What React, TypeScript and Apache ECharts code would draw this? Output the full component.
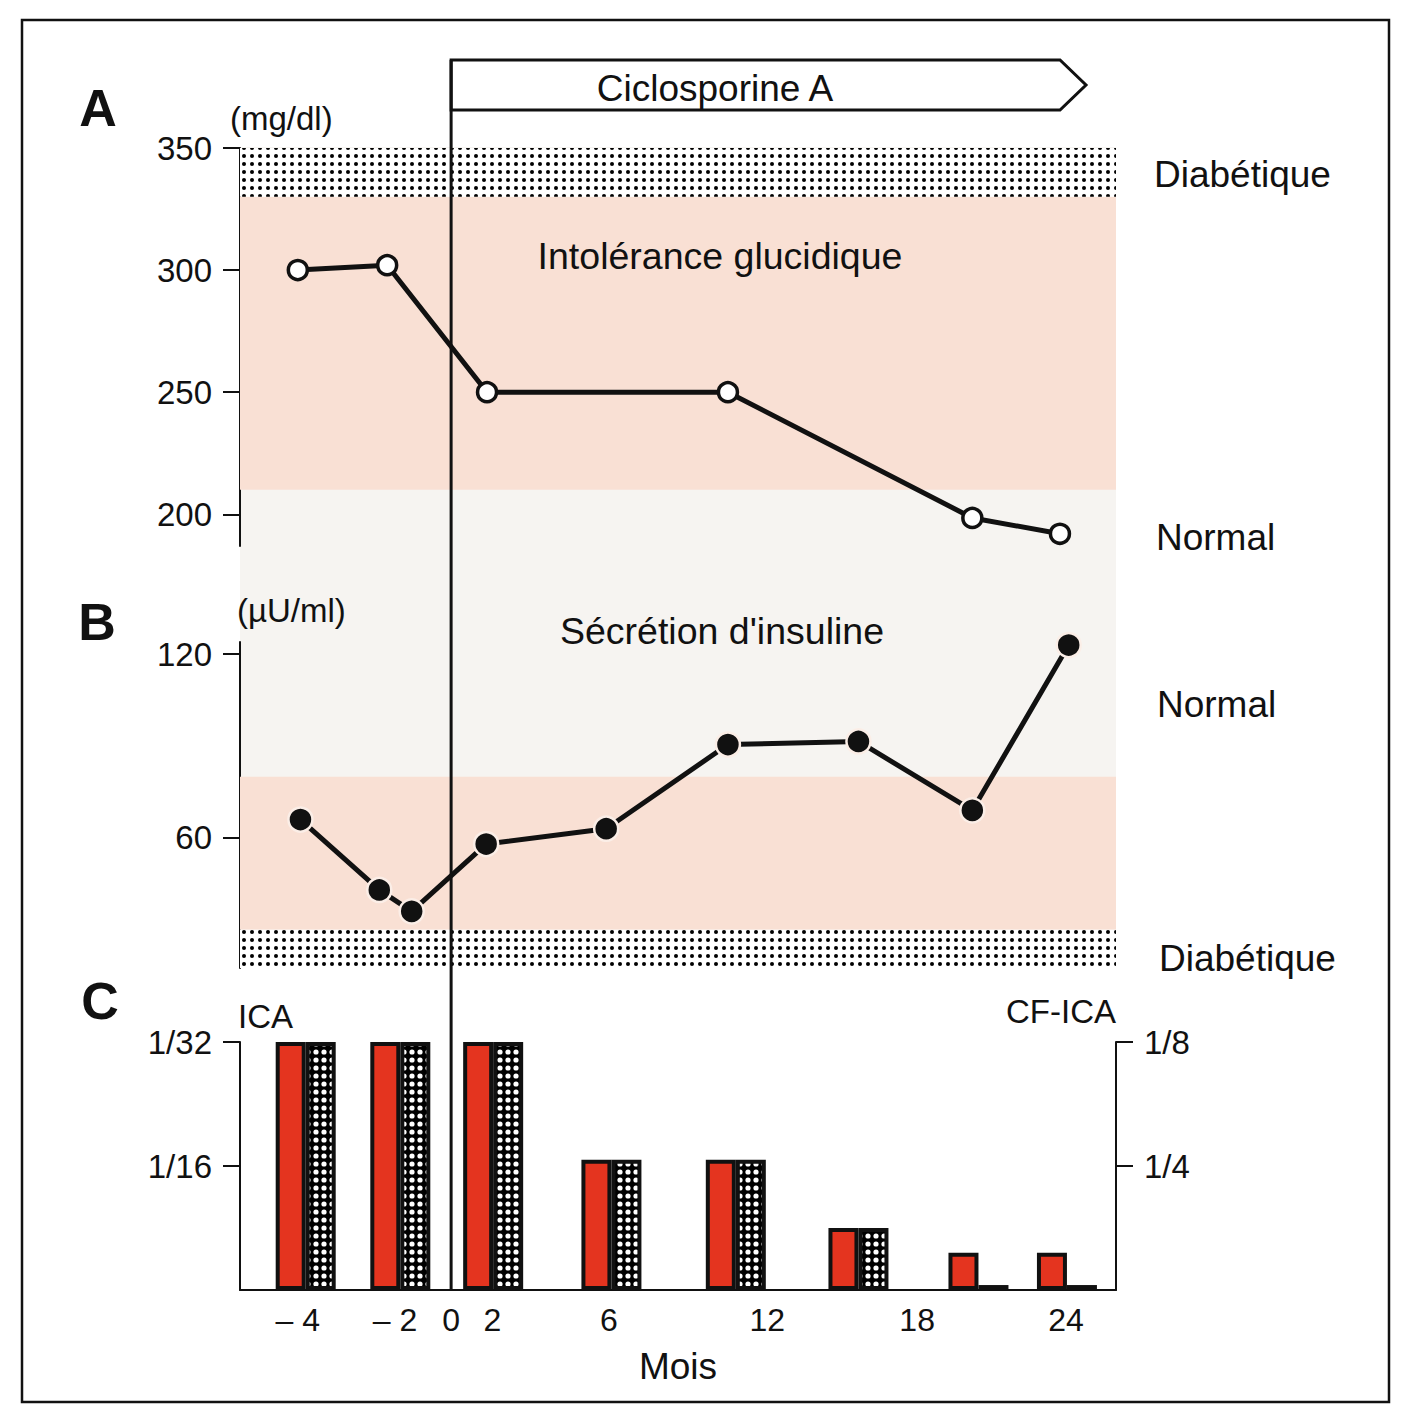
import React, { useEffect, useRef } from 'react';
import * as echarts from 'echarts';

const FONT = '"Liberation Sans", Arial, Helvetica, sans-serif';
const INK = '#111111';
const PINK = '#f9e0d4';
const NORMAL_BG = '#f6f4f1';
const RED = '#e4341f';

// Time axis of the original is schematic (non-linear): values are positions along the axis (0–100).
const timeTickLabels = ['– 4', '– 2', '0', '2', '6', '12', '18', '24'];
const timeTickPos = [6.6, 17.7, 24.1, 28.8, 42.1, 60.2, 77.3, 94.3];
const treatmentStartPos = 24.1; // month 0: start of Ciclosporine A

// A — glycémie (mg/dl)
const glucoseTime = [6.6, 16.8, 28.2, 55.7, 83.6, 93.6];
const glucose = [300, 302, 250, 250, 198.5, 192];
const glucoseTicks = [200, 250, 300, 350];
const glucoseIntoleranceBand = [210, 330];
const glucoseDiabeticBand = [330, 350];

// B — sécrétion d'insuline (µU/ml)
const insulinTime = [6.9, 15.9, 19.6, 28.1, 41.8, 55.7, 70.6, 83.6, 94.6];
const insulin = [66, 43, 36, 58, 63, 90.5, 91.5, 69, 123];
const insulinTicks = [60, 120];
const insulinReducedBand = [30, 80];
const insulinDiabeticBand = [17.5, 30];

// C — ICA / CF-ICA titres, in doubling dilutions above the baseline
const antibodyTime = [7.5, 18.3, 28.9, 42.4, 56.6, 70.6, 84.3, 94.4];
const icaTitre = [2, 2, 2, 1.05, 1.05, 0.5, 0.3, 0.3];
const cfIcaTitre = [2, 2, 2, 1.05, 1.05, 0.5, 0.04, 0.04];
const icaTicks = [1, 2];
const icaTickLabels = ['1/16', '1/32'];
const cfIcaTicks = [1, 2];
const cfIcaTickLabels = ['1/4', '1/8'];

function dotPattern(w: number, h: number, r: number, dot: string, bg: string) {
  const c = document.createElement('canvas');
  c.width = w;
  c.height = h;
  const ctx = c.getContext('2d')!;
  ctx.fillStyle = bg;
  ctx.fillRect(0, 0, w, h);
  ctx.fillStyle = dot;
  ctx.beginPath();
  ctx.arc(w / 2, h / 2, r, 0, Math.PI * 2);
  ctx.fill();
  return { image: c, repeat: 'repeat' };
}

function lookup(vals: number[], labels: string[]) {
  return (v: number) => {
    const i = vals.findIndex((x) => Math.abs(x - v) < 1e-6);
    return i >= 0 ? labels[i] : '';
  };
}

function yAxis(gridIndex: number, min: number, max: number, ticks: number[], opts: any = {}) {
  const right = opts.position === 'right';
  return {
    type: 'value',
    gridIndex,
    min,
    max,
    position: opts.position || 'left',
    name: opts.name || '',
    nameLocation: 'end',
    nameGap: opts.nameGap || 30,
    nameTextStyle: {
      fontSize: 33,
      color: INK,
      fontFamily: FONT,
      align: right ? 'right' : 'left',
      verticalAlign: 'middle',
      padding: right ? 0 : [0, 0, 0, opts.nameShift || 0],
    },
    axisLine: { show: true, onZero: false, lineStyle: { color: INK, width: 2 } },
    axisTick: { show: true, inside: false, length: 17, customValues: ticks, lineStyle: { color: INK, width: 2 } },
    axisLabel: {
      customValues: ticks,
      fontSize: 33,
      color: INK,
      fontFamily: FONT,
      margin: 28,
      formatter: opts.formatter,
    },
    splitLine: { show: false },
  };
}

function xAxis(gridIndex: number, visible: boolean) {
  return {
    type: 'value',
    gridIndex,
    min: 0,
    max: 100,
    show: visible,
    name: visible ? 'Mois' : '',
    nameLocation: 'middle',
    nameGap: 58,
    nameTextStyle: { fontSize: 37, color: INK, fontFamily: FONT },
    axisLine: { show: true, onZero: false, lineStyle: { color: INK, width: 2 } },
    axisTick: { show: false },
    axisLabel: {
      customValues: timeTickPos,
      formatter: lookup(timeTickPos, timeTickLabels),
      fontSize: 32,
      color: INK,
      fontFamily: FONT,
      margin: 14,
    },
    splitLine: { show: false },
  };
}

export default function App() {
  const ref = useRef<HTMLDivElement>(null);

  useEffect(() => {
    if (!ref.current) return;
    const chart = echarts.init(ref.current, null, { renderer: 'svg' });

    const bandDots = dotPattern(8, 8, 2, '#000', '#ffffff');
    const barDots = dotPattern(8, 8, 2.6, '#ffffff', '#000');

    const option: any = {
      animation: false,
      backgroundColor: '#ffffff',
      textStyle: { fontFamily: FONT },
      grid: [
        { left: 240, right: 292, top: 148, height: 398 },
        { left: 240, right: 292, top: 642, height: 326 },
        { left: 240, right: 292, top: 1042, height: 248 },
      ],
      xAxis: [xAxis(0, false), xAxis(1, false), xAxis(2, true)],
      yAxis: [
        yAxis(0, 187, 350, glucoseTicks, { name: '(mg/dl)', nameGap: 30, nameShift: -10 }),
        yAxis(1, 17.5, 124, insulinTicks, { name: '(µU/ml)', nameGap: 32, nameShift: -3 }),
        yAxis(2, 0, 2, icaTicks, { name: 'ICA', nameGap: 26, nameShift: -2, formatter: lookup(icaTicks, icaTickLabels) }),
        yAxis(2, 0, 2, cfIcaTicks, {
          name: 'CF-ICA',
          nameGap: 31,
          position: 'right',
          formatter: lookup(cfIcaTicks, cfIcaTickLabels),
        }),
      ],
      series: [
        {
          type: 'line',
          name: 'Glycémie',
          xAxisIndex: 0,
          yAxisIndex: 0,
          data: glucoseTime.map((t, i) => [t, glucose[i]]),
          symbol: 'circle',
          symbolSize: 19,
          clip: false,
          silent: true,
          z: 3,
          lineStyle: { color: INK, width: 5 },
          itemStyle: { color: '#ffffff', borderColor: INK, borderWidth: 3.5 },
          markArea: {
            silent: true,
            data: [
              [{ yAxis: glucoseIntoleranceBand[0], itemStyle: { color: PINK } }, { yAxis: glucoseIntoleranceBand[1] }],
              [{ yAxis: glucoseDiabeticBand[0], itemStyle: { color: bandDots } }, { yAxis: glucoseDiabeticBand[1] }],
            ],
          },
        },
        {
          type: 'line',
          name: "Sécrétion d'insuline",
          xAxisIndex: 1,
          yAxisIndex: 1,
          data: insulinTime.map((t, i) => [t, insulin[i]]),
          symbol: 'circle',
          symbolSize: 24,
          clip: false,
          silent: true,
          z: 3,
          lineStyle: { color: INK, width: 5 },
          itemStyle: { color: INK, borderColor: '#fbeee7', borderWidth: 2.5 },
          markArea: {
            silent: true,
            data: [
              [{ yAxis: insulinReducedBand[0], itemStyle: { color: PINK } }, { yAxis: insulinReducedBand[1] }],
              [{ yAxis: insulinDiabeticBand[0], itemStyle: { color: bandDots } }, { yAxis: insulinDiabeticBand[1] }],
            ],
          },
        },
        {
          type: 'bar',
          name: 'ICA',
          xAxisIndex: 2,
          yAxisIndex: 2,
          data: antibodyTime.map((t, i) => [t, icaTitre[i]]),
          barWidth: 30,
          barGap: '0%',
          silent: true,
          itemStyle: { color: RED, borderColor: INK, borderWidth: 4 },
        },
        {
          type: 'bar',
          name: 'CF-ICA',
          xAxisIndex: 2,
          yAxisIndex: 3,
          data: antibodyTime.map((t, i) => [t, cfIcaTitre[i]]),
          barWidth: 30,
          barGap: '0%',
          silent: true,
          itemStyle: { color: barDots, borderColor: INK, borderWidth: 4 },
        },
      ],
    };

    chart.setOption(option);

    const x0 = chart.convertToPixel({ xAxisIndex: 0 }, treatmentStartPos) as number;

    const txt = (text: string, x: number, y: number, size: number, align: string, weight = 'normal') => ({
      type: 'text',
      x,
      y,
      z: 10,
      silent: true,
      style: {
        text,
        fill: INK,
        fontSize: size,
        fontFamily: FONT,
        fontWeight: weight,
        align,
        verticalAlign: 'middle',
      },
    });

    chart.setOption({
      graphic: [
        {
          type: 'rect',
          z: -1,
          silent: true,
          shape: { x: 240, y: 147, width: 876, height: 821 },
          style: { fill: NORMAL_BG },
        },
        {
          type: 'rect',
          z: 10,
          silent: true,
          shape: { x: 22, y: 20, width: 1367, height: 1382 },
          style: { fill: 'none', stroke: INK, lineWidth: 2.5 },
        },
        {
          type: 'polygon',
          z: 10,
          silent: true,
          shape: { points: [[x0, 60], [1060, 60], [1086, 85], [1060, 110], [x0, 110]] },
          style: { fill: '#ffffff', stroke: INK, lineWidth: 3 },
        },
        {
          type: 'line',
          z: 10,
          silent: true,
          shape: { x1: x0, y1: 60, x2: x0, y2: 1290 },
          style: { stroke: INK, lineWidth: 3 },
        },
        txt('A', 98, 108, 52, 'center', 'bold'),
        txt('B', 97, 622, 52, 'center', 'bold'),
        txt('C', 100, 1001, 52, 'center', 'bold'),
        txt('Ciclosporine A', 715, 88, 37, 'center'),
        txt('Intolérance glucidique', 720, 256, 37.5, 'center'),
        txt("Sécrétion d'insuline", 722, 631, 37.5, 'center'),
        txt('Diabétique', 1154, 174, 37, 'left'),
        txt('Normal', 1156, 537, 37, 'left'),
        txt('Normal', 1157, 704, 37, 'left'),
        txt('Diabétique', 1159, 958, 37, 'left'),
      ],
    });

    return () => chart.dispose();
  }, []);

  return (
    <div
      ref={ref}
      style={{ position: 'fixed', left: 0, top: 0, width: 1408, height: 1416, background: '#ffffff' }}
    />
  );
}
